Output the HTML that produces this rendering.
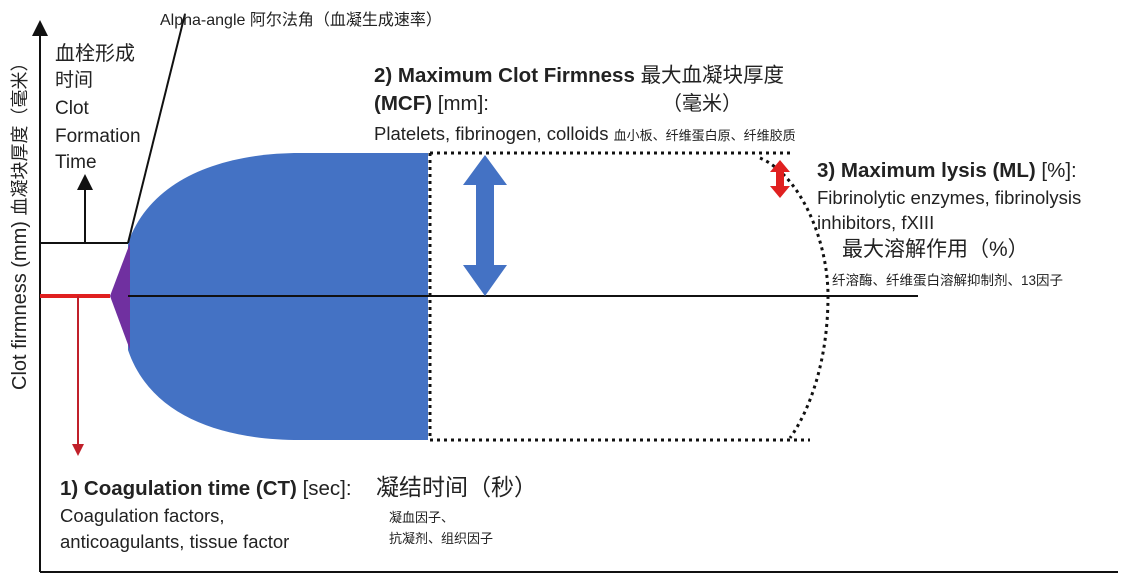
<!DOCTYPE html>
<html><head><meta charset="utf-8"><style>
html,body{margin:0;padding:0;background:#fff;}
svg text{font-family:"Liberation Sans","Noto Sans CJK SC",sans-serif;fill:#222;}
</style></head><body>
<svg width="1124" height="578" xmlns="http://www.w3.org/2000/svg">
<defs>
<marker id="ab" markerWidth="8" markerHeight="8" refX="4" refY="4" orient="auto"><path d="M0,0 L8,4 L0,8z" fill="#111"/></marker>
<marker id="ar" markerWidth="6" markerHeight="6" refX="3" refY="3" orient="auto"><path d="M0,0 L6,3 L0,6z" fill="#c0202a"/></marker>
</defs>
<line x1="40" y1="572" x2="40" y2="28" stroke="#111" stroke-width="2" marker-end="url(#ab)"/>
<line x1="40" y1="572" x2="1118" y2="572" stroke="#111" stroke-width="2"/>
<path d="M128,243 C150,180 220,153 300,153 L428,153 L428,440 L300,440 C220,440 150,415 128,350 Z" fill="#4472c4"/>
<path d="M110,296 L130,243 L130,350 Z" fill="#7030a0"/>
<line x1="40" y1="243" x2="128" y2="243" stroke="#111" stroke-width="2"/>
<line x1="85" y1="243" x2="85" y2="182" stroke="#111" stroke-width="2" marker-end="url(#ab)"/>
<line x1="40" y1="296" x2="110" y2="296" stroke="#e02020" stroke-width="4"/>
<line x1="78" y1="296" x2="78" y2="450" stroke="#c0202a" stroke-width="2" marker-end="url(#ar)"/>
<line x1="128" y1="296" x2="918" y2="296" stroke="#111" stroke-width="2"/>
<line x1="128" y1="243" x2="185" y2="14" stroke="#111" stroke-width="2"/>
<g fill="none" stroke="#111" stroke-width="3" stroke-dasharray="3,4">
<line x1="430" y1="153" x2="790" y2="153"/>
<line x1="430" y1="440" x2="810" y2="440"/>
<line x1="430" y1="153" x2="430" y2="440"/>
<path d="M760,158 C800,175 828,240 828,296 C828,360 810,410 790,438"/>
</g>
<path d="M485,155 L507,185 L494,185 L494,265 L507,265 L485,296 L463,265 L476,265 L476,185 L463,185 Z" fill="#4472c4"/>
<path d="M780,160 L790,172 L784,172 L784,186 L790,186 L780,198 L770,186 L776,186 L776,172 L770,172 Z" fill="#e02020"/>
<text transform="translate(26,390) rotate(-90)" font-size="20">Clot firmness (mm) <tspan font-size="18">血凝块厚度（毫米）</tspan></text>
<text x="160" y="25" font-size="16">Alpha-angle 阿尔法角（血凝生成速率）</text>
<text x="55" y="60" font-size="20">血栓形成</text>
<text x="55" y="86" font-size="19">时间</text>
<text x="55" y="114" font-size="19">Clot</text>
<text x="55" y="142" font-size="19">Formation</text>
<text x="55" y="168" font-size="19">Time</text>
<text x="374" y="82" font-size="20.5" font-weight="bold">2) Maximum Clot Firmness <tspan font-weight="normal">最大血凝块厚度</tspan></text>
<text x="374" y="110" font-size="20.5"><tspan font-weight="bold">(MCF)</tspan> [mm]:</text>
<text x="662" y="110" font-size="20">（毫米）</text>
<text x="374" y="140" font-size="18.5">Platelets, fibrinogen, colloids <tspan font-size="13">血小板、纤维蛋白原、纤维胶质</tspan></text>
<text x="817" y="177" font-size="20.5" font-weight="bold">3) Maximum lysis (ML) <tspan font-weight="normal">[%]:</tspan></text>
<text x="817" y="204" font-size="18.5">Fibrinolytic enzymes, fibrinolysis</text>
<text x="817" y="229" font-size="18.5">inhibitors, fXIII</text>
<text x="842" y="256" font-size="21">最大溶解作用（%）</text>
<text x="832" y="285" font-size="13.5">纤溶酶、纤维蛋白溶解抑制剂、13因子</text>
<text x="60" y="495" font-size="20.5" font-weight="bold">1) Coagulation time (CT) <tspan font-weight="normal">[sec]:</tspan></text>
<text x="376" y="495" font-size="23">凝结时间（秒）</text>
<text x="60" y="522" font-size="18.5">Coagulation factors,</text>
<text x="60" y="548" font-size="18.5">anticoagulants, tissue factor</text>
<text x="389" y="522" font-size="13">凝血因子、</text>
<text x="389" y="543" font-size="13">抗凝剂、组织因子</text>
</svg>
</body></html>
